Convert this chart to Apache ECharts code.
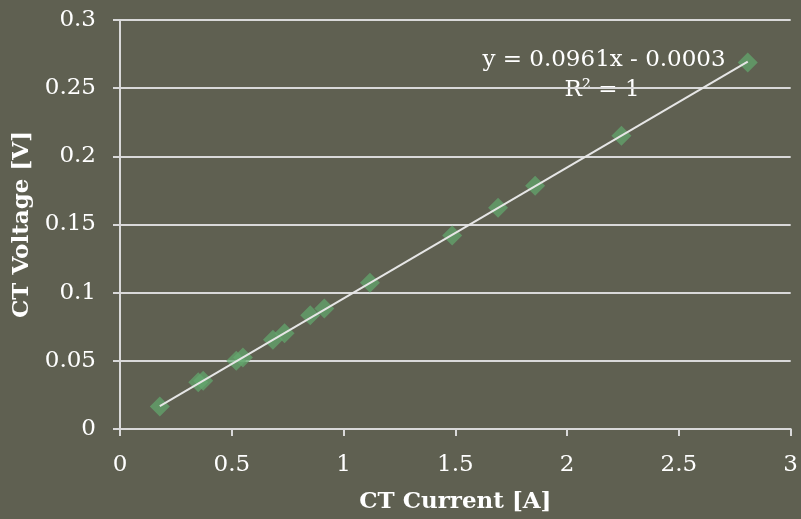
<!DOCTYPE html>
<html>
<head>
<meta charset="utf-8">
<script src="https://cdn.jsdelivr.net/npm/echarts@6/dist/echarts.min.js"></script>
<style>
  html, body { margin: 0; padding: 0; background: #5f6051; }
  #chart { width: 801px; height: 519px; }
</style>
</head>
<body>
<div id="chart"></div>
<script>
// Current transformer calibration: measured secondary voltage vs. primary current
const currentA = [0.178, 0.350, 0.372, 0.520, 0.550, 0.684, 0.736, 0.851, 0.914, 1.118, 1.486, 1.691, 1.857, 2.243, 2.808];
const voltageV = [0.0165, 0.0342, 0.0353, 0.0500, 0.0525, 0.0655, 0.0702, 0.0834, 0.0883, 0.1072, 0.1420, 0.1622, 0.1785, 0.2151, 0.2688];

// Linear fit coefficients (as reported by the fit label)
const fitSlope = [0.0961];
const fitIntercept = [-0.0003];
const fitLabels = ['y = 0.0961x - 0.0003', 'R\u00b2 = 1'];

const xTicks = { min: 0, max: 3, interval: 0.5 };
const yTicks = { min: 0, max: 0.3, interval: 0.05 };

const points = currentA.map((x, i) => [x, voltageV[i]]);
const xLo = Math.min(...currentA), xHi = Math.max(...currentA);
const trend = [xLo, xHi].map(x => [x, fitSlope[0] * x + fitIntercept[0]]);

const font = '"DejaVu Serif", serif';
const lineColor = '#d9d9d9';

const chart = echarts.init(document.getElementById('chart'), null, { renderer: 'canvas' });
chart.setOption({
  backgroundColor: '#5f6051',
  animation: false,
  grid: { left: 120, right: 7, top: 20, bottom: 89, containLabel: false },
  xAxis: {
    type: 'value',
    min: xTicks.min, max: xTicks.max, interval: xTicks.interval,
    name: 'CT Current [A]',
    nameLocation: 'middle',
    nameGap: 62,
    nameTextStyle: { color: '#ffffff', fontFamily: font, fontWeight: 'bold', fontSize: 23 },
    axisLine: { show: true, lineStyle: { color: lineColor, width: 2 } },
    axisTick: { show: true, length: 7, lineStyle: { color: lineColor, width: 2 } },
    axisLabel: { color: '#ffffff', fontFamily: font, fontSize: 23, margin: 25 },
    splitLine: { show: false }
  },
  yAxis: {
    type: 'value',
    min: yTicks.min, max: yTicks.max, interval: yTicks.interval,
    name: 'CT Voltage [V]',
    nameLocation: 'middle',
    nameGap: 84,
    nameRotate: 90,
    nameTextStyle: { color: '#ffffff', fontFamily: font, fontWeight: 'bold', fontSize: 23 },
    axisLine: { show: true, lineStyle: { color: lineColor, width: 2 } },
    axisTick: { show: true, length: 7, lineStyle: { color: lineColor, width: 2 } },
    axisLabel: { color: '#ffffff', fontFamily: font, fontSize: 23, margin: 24 },
    splitLine: { show: true, lineStyle: { color: lineColor, width: 2 } }
  },
  series: [
    {
      name: 'Measured',
      type: 'scatter',
      data: points,
      symbol: 'diamond',
      symbolSize: [20, 20],
      itemStyle: { color: 'rgba(98, 168, 110, 0.9)' },
      z: 2
    },
    {
      name: 'Linear fit',
      type: 'line',
      data: trend,
      showSymbol: false,
      symbol: 'none',
      lineStyle: { color: '#e6e6e6', width: 2 },
      z: 3
    }
  ],
  graphic: [
    {
      type: 'text',
      x: 604, y: 60,
      style: { text: fitLabels[0], fill: '#ffffff', font: '23px ' + font, align: 'center', verticalAlign: 'middle' }
    },
    {
      type: 'text',
      x: 602, y: 90,
      style: { text: fitLabels[1], fill: '#ffffff', font: '23px ' + font, align: 'center', verticalAlign: 'middle' }
    }
  ]
});
</script>
</body>
</html>
